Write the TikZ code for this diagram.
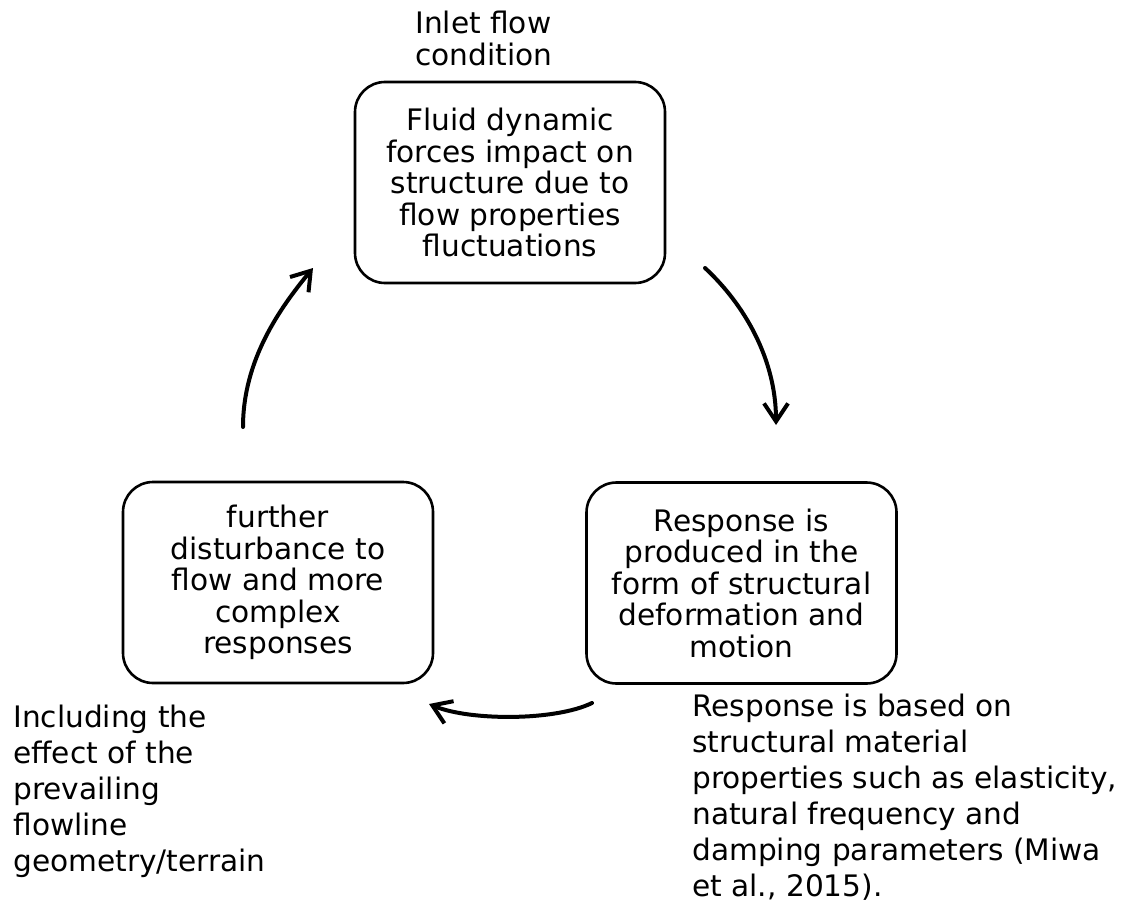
\documentclass[tikz,border=0pt]{standalone}
\usepackage{fontspec}
\setmainfont{DejaVu Sans}
\usetikzlibrary{arrows.meta}

\begin{document}
\begin{tikzpicture}[
  x=0.5pt, y=-0.5pt,
  box/.style={rectangle, draw, line width=1.3pt, rounded corners=15pt,
              minimum width=155pt, minimum height=100.5pt, align=center, inner sep=0pt},
  note/.style={align=left, anchor=north west, inner sep=0pt,
               font=\fontsize{14.8}{18}\selectfont},
  arr/.style={-{Straight Barb[length=9pt,width=12pt]}, line width=2pt, line cap=round},
  every node/.style={font=\fontsize{14.8}{15.75}\selectfont}
]
  \useasboundingbox (0,0) rectangle (1123,909);

  % Top box
  \node[box] (forces) at (510,182.5) {Fluid dynamic\\forces impact on\\structure due to\\flow properties\\fluctuations};

  % Right box
  \node[box] (resp) at (741.5,583) {Response is\\produced in the\\form of structural\\deformation and\\motion};

  % Left box
  \node[box] (dist) at (278,582.5) {further\\disturbance to\\flow and more\\complex\\responses};

  % Side notes
  \node[note, font=\fontsize{14.8}{15.75}\selectfont] (inlet) at (415,11) {Inlet flow\\condition};
  \node[note] (terrain) at (13,705) {Including the\\effect of the\\prevailing\\flowline\\geometry/terrain};
  \node[note] (material) at (692,694) {Response is based on\\structural material\\properties such as elasticity,\\natural frequency and\\damping parameters (Miwa\\et al., 2015).};

  % Arrow ends
  \coordinate (r0) at (705,268);
  \coordinate (r1) at (776,425);
  \coordinate (b0) at (592,703);
  \coordinate (b1) at (429,704);
  \coordinate (l0) at (243,427);
  \coordinate (l1) at (313,268);

  % Arrows
  \draw[arr] (r0) .. controls +(40,37) and +(0,-65) .. (r1);
  \draw[arr] (b0) .. controls +(-37,18) and +(41,17) .. (b1);
  \draw[arr] (l0) .. controls +(0,-67) and +(-33,40) .. (l1);
\end{tikzpicture}
\end{document}
